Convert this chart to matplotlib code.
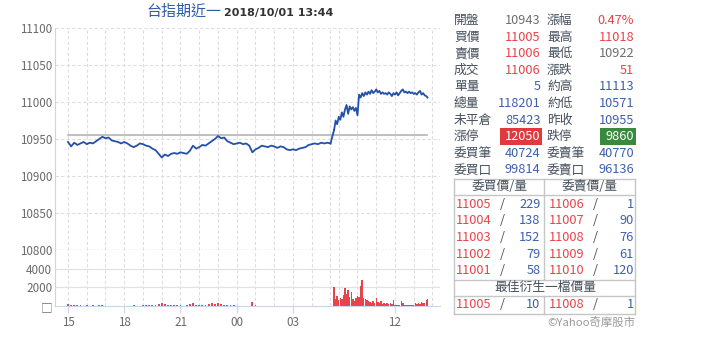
"""台指期近一 intraday chart with quote panel (Yahoo style)."""

import matplotlib

matplotlib.use("Agg")
import matplotlib.pyplot as plt
import pandas as pd
from matplotlib.lines import Line2D
from matplotlib.patches import Rectangle

plt.rcParams["font.family"] = ["Noto Sans CJK TC", "DejaVu Sans"]

W, H = 720, 346

# --- price / volume data -------------------------------------------------
PREV_CLOSE = 10955

night_price = [
    10946, 10940, 10945, 10942, 10944, 10946,  # 15h
    10943, 10945, 10944, 10947, 10950, 10953,  # 16h
    10951, 10952, 10948, 10947, 10946, 10944,  # 17h
    10946, 10944, 10941, 10939, 10941, 10944,  # 18h
    10943, 10941, 10940, 10937, 10935, 10930,  # 19h
    10925, 10929, 10927, 10930, 10931, 10930,  # 20h
    10932, 10931, 10930, 10934, 10941, 10937,  # 21h
    10939, 10942, 10941, 10944, 10947, 10950,  # 22h
    10954, 10951, 10952, 10947, 10945, 10943,  # 23h
    10944, 10945, 10943, 10944, 10941, 10932,  # 00h
    10936, 10938, 10941, 10940, 10939, 10941,  # 01h
    10940, 10938, 10940, 10939, 10936, 10935,  # 02h
    10936, 10935, 10937, 10938, 10939, 10942,  # 03h
    10943, 10944, 10943, 10945, 10944, 10945,  # 04h
    10944,                                     # 05:00
]
night_vol = [
    250, 150, 100, 80, 60, 50,
    80, 40, 60, 50, 70, 80,
    50, 40, 30, 40, 20, 30,
    30, 20, 40, 80, 50, 30,
    60, 100, 80, 120, 150, 250,
    350, 200, 150, 120, 100, 80,
    60, 50, 80, 200, 300, 150,
    120, 100, 150, 200, 280, 250,
    300, 200, 150, 100, 80, 60,
    40, 30, 40, 30, 50, 400,
    150, 40, 30, 20, 30, 20,
    20, 10, 30, 20, 20, 10,
    20, 10, 30, 20, 10, 20,
    20, 10, 20, 30, 20, 30,
    40,
]

day_price = [
    10962, 10975, 10970,                                                      # 08:45
    10980, 10976, 10986, 10980, 10990, 10996, 10984, 10994, 10990, 10993, 10988, 10992,
    10982, 11010, 11006, 11012, 11008, 11013, 11010, 11014, 11011, 11016, 11012, 11014,
    11017, 11013, 11015, 11011, 11013, 11011, 11012, 11010, 11013, 11011, 11008, 11012,
    11010, 11013, 11009, 11012, 11015, 11017, 11013, 11014, 11012, 11014, 11012, 11013,
    11011, 11012, 11010, 11013, 11015, 11010, 11012, 11009, 11008,
    11006,                                                                    # 13:44
]
day_vol = [
    2000, 800, 1100,
    600, 900, 700, 1200, 1900, 1300, 1700, 1000, 1500, 700, 500, 900,
    1100, 1000, 2100, 2800, 900, 700, 600, 500, 400, 300, 500, 350,
    900, 400, 300, 500, 250, 350, 200, 300, 250, 350, 200, 600,
    150, 100, 150, 100, 500, 300, 150, 100, 80, 100, 80, 60,
    150, 350, 250, 300, 200, 400, 300, 350, 600,
    750,
]

night_times = list(pd.date_range("2018-09-30 15:00", "2018-10-01 05:00", freq="10min").strftime("%H:%M"))
day_times = list(pd.date_range("2018-10-01 08:45", "2018-10-01 13:40", freq="5min").strftime("%H:%M")) + ["13:44"]

x_tick_labels = ["15", "18", "21", "00", "03", "12"]
x_tick_times = ["15:00", "18:00", "21:00", "00:00", "03:00", "12:00"]
grid_times = [f"{h:02d}:00" for h in list(range(15, 24)) + list(range(0, 6))] + [
    f"{h:02d}:00" for h in range(9, 15)
]

price_ticks = [10800, 10850, 10900, 10950, 11000, 11050, 11100]
vol_ticks = [0, 2000, 4000]
vol_tick_labels = ["\u25a1", "2000", "4000"]

DAY_OFFSET = 14.19  # axis position of 08:45 (night session spans 0..14)


def session_pos(hhmm: str) -> float:
    h, m = (int(v) for v in hhmm.split(":"))
    hr = h + m / 60
    if h >= 15:
        return hr - 15
    if hr <= 5:
        return hr + 9
    return DAY_OFFSET + (hr - 8.75)


# --- colours ------------------------------------------------------------
BLUE_LINE = "#2350a8"
RED = "#e8434a"
BLUE = "#3d5fae"
GRAY = "#6e6e6e"
LABEL = "#46505c"
TICK = "#6a6a6a"
GRID = "#dedede"
SPINE = "#c9d6e6"
TICK_FS = 8.4


def fx(x):
    return x / W


def fy(y):
    return 1 - y / H


fig = plt.figure(figsize=(7.2, 3.46), dpi=100)

ax_p = fig.add_axes([fx(55), fy(250), fx(440) - fx(55), fy(28) - fy(250)])
ax_v = fig.add_axes([fx(55), fy(306), fx(440) - fx(55), fy(250) - fy(306)], sharex=ax_p)

t_night = [session_pos(t) for t in night_times]
t_day = [session_pos(t) for t in day_times]
xlim = (-0.693, 19.84)

# price panel
for t in grid_times:
    ax_p.axvline(session_pos(t), color=GRID, lw=0.8, ls=(0, (3, 2)), zorder=0)
    ax_v.axvline(session_pos(t), color=GRID, lw=0.8, ls=(0, (3, 2)), zorder=0)
for v in price_ticks[1:]:
    ax_p.axhline(v, color=GRID, lw=0.8, ls=(0, (3, 2)), zorder=0)
ax_p.axhline(10800, color="#c4c4c4", lw=1.0, ls=(0, (1.5, 1)), zorder=0, clip_on=False)

ax_p.plot([t_night[0], t_day[-1]], [PREV_CLOSE, PREV_CLOSE], color="#b4b4b4", lw=1.2, zorder=1)
ax_p.plot(t_night, night_price, color=BLUE_LINE, lw=1.3, zorder=2)
ax_p.plot([t_night[-1], t_day[0]], [night_price[-1], day_price[0]], color=BLUE_LINE, lw=1.3, zorder=2)
ax_p.plot(t_day, day_price, color=BLUE_LINE, lw=1.3, zorder=2)

ax_p.set_xlim(*xlim)
ax_p.set_ylim(10800, 11100)
ax_p.set_yticks(price_ticks)
ax_p.tick_params(axis="y", length=0, labelsize=TICK_FS, labelcolor=TICK, pad=2)
ax_p.tick_params(axis="x", length=0, labelbottom=False)
for s in ["top", "right", "bottom"]:
    ax_p.spines[s].set_visible(False)
ax_p.spines["left"].set_color(SPINE)

# volume panel
for v in vol_ticks[1:]:
    ax_v.axhline(v, color="#e2e2e2", lw=0.9, zorder=0)
ax_v.bar(t_night, night_vol, width=0.1, color=RED, lw=0, zorder=2)
ax_v.bar(t_day, day_vol, width=0.075, color=RED, lw=0, zorder=2)
ax_v.set_ylim(0, 6000)
ax_v.set_yticks(vol_ticks)
ax_v.set_yticklabels(vol_tick_labels)
ax_v.tick_params(axis="y", length=0, labelsize=TICK_FS, labelcolor=TICK, pad=2)
ax_v.set_xticks([session_pos(t) for t in x_tick_times])
ax_v.set_xticklabels(x_tick_labels)
ax_v.tick_params(axis="x", length=5, color=SPINE, labelsize=TICK_FS, labelcolor=TICK, pad=2)
for s in ["top", "right"]:
    ax_v.spines[s].set_visible(False)
ax_v.spines["left"].set_color(SPINE)
ax_v.spines["bottom"].set_color(SPINE)
ax_v.set_xlim(*xlim)

# title
fig.text(fx(146), fy(12), "台指期近一", color="#2f5ca8", fontsize=10.8, ha="left", va="center")
fig.text(fx(224), fy(13), "2018/10/01 13:44", color="#333333", fontsize=8, fontweight="bold",
         family=["DejaVu Sans"], ha="left", va="center")

# --- quote panel -------------------------------------------------------
quote_left = [
    ("開盤", "10943", GRAY), ("買價", "11005", RED), ("賣價", "11006", RED),
    ("成交", "11006", RED), ("單量", "5", BLUE), ("總量", "118201", BLUE),
    ("未平倉", "85423", BLUE), ("漲停", "12050", "white"), ("委買筆", "40724", BLUE),
    ("委買口", "99814", BLUE),
]
quote_right = [
    ("漲幅", "0.47%", RED), ("最高", "11018", RED), ("最低", "10922", GRAY),
    ("漲跌", "51", RED), ("約高", "11113", BLUE), ("約低", "10571", BLUE),
    ("昨收", "10955", BLUE), ("跌停", "9860", "white"), ("委賣筆", "40770", BLUE),
    ("委賣口", "96136", BLUE),
]
bid_price = ["11005", "11004", "11003", "11002", "11001"]
bid_qty = ["229", "138", "152", "79", "58"]
ask_price = ["11006", "11007", "11008", "11009", "11010"]
ask_qty = ["1", "90", "76", "61", "120"]
best_deriv = [("11005", "10"), ("11008", "1")]

FS = 9.2
fig.add_artist(Rectangle((fx(500), fy(145)), fx(42), fy(128) - fy(145), color="#df3b3f", lw=0))
fig.add_artist(Rectangle((fx(600), fy(145)), fx(36), fy(128) - fy(145), color="#39893e", lw=0))

for i, ((l1, v1, c1), (l2, v2, c2)) in enumerate(zip(quote_left, quote_right)):
    y = fy(20.5 + i * 16.6)
    fig.text(fx(454), y, l1, color=LABEL, fontsize=FS, ha="left", va="center")
    fig.text(fx(540.5), y, v1, color=c1, fontsize=FS, ha="right", va="center")
    fig.text(fx(547), y, l2, color=LABEL, fontsize=FS, ha="left", va="center")
    fig.text(fx(634), y, v2, color=c2, fontsize=FS, ha="right", va="center")


def hline(y, x0=454, x1=635):
    fig.add_artist(Line2D([fx(x0), fx(x1)], [fy(y), fy(y)], color="#c6c6c6", lw=1.0))


def vline(x, y0, y1):
    fig.add_artist(Line2D([fx(x), fx(x)], [fy(y0), fy(y1)], color="#c6c6c6", lw=1.0))


for y in [178.5, 195, 280, 296, 314]:
    hline(y)
vline(454, 178.5, 314)
vline(635, 178.5, 314)
vline(544, 178.5, 280)
vline(544, 296, 314)

fig.text(fx(500), fy(187), "委買價/量", color=LABEL, fontsize=FS, ha="center", va="center")
fig.text(fx(590), fy(187), "委賣價/量", color=LABEL, fontsize=FS, ha="center", va="center")
for i in range(5):
    y = fy(204 + i * 16.7)
    fig.text(fx(456), y, bid_price[i], color=RED, fontsize=FS, ha="left", va="center")
    fig.text(fx(502), y, "/", color=LABEL, fontsize=FS, ha="center", va="center")
    fig.text(fx(540.5), y, bid_qty[i], color=BLUE, fontsize=FS, ha="right", va="center")
    fig.text(fx(549), y, ask_price[i], color=RED, fontsize=FS, ha="left", va="center")
    fig.text(fx(595), y, "/", color=LABEL, fontsize=FS, ha="center", va="center")
    fig.text(fx(634), y, ask_qty[i], color=BLUE, fontsize=FS, ha="right", va="center")

fig.text(fx(545), fy(287.5), "最佳衍生一檔價量", color=LABEL, fontsize=FS, ha="center", va="center")
y = fy(304.5)
fig.text(fx(456), y, best_deriv[0][0], color=RED, fontsize=FS, ha="left", va="center")
fig.text(fx(502), y, "/", color=LABEL, fontsize=FS, ha="center", va="center")
fig.text(fx(540.5), y, best_deriv[0][1], color=BLUE, fontsize=FS, ha="right", va="center")
fig.text(fx(549), y, best_deriv[1][0], color=RED, fontsize=FS, ha="left", va="center")
fig.text(fx(595), y, "/", color=LABEL, fontsize=FS, ha="center", va="center")
fig.text(fx(634), y, best_deriv[1][1], color=BLUE, fontsize=FS, ha="right", va="center")

fig.text(fx(635), fy(322), "©Yahoo奇摩股市", color="#9a9a9a", fontsize=8.2, ha="right", va="center")

fig.savefig("out.png", dpi=100)
